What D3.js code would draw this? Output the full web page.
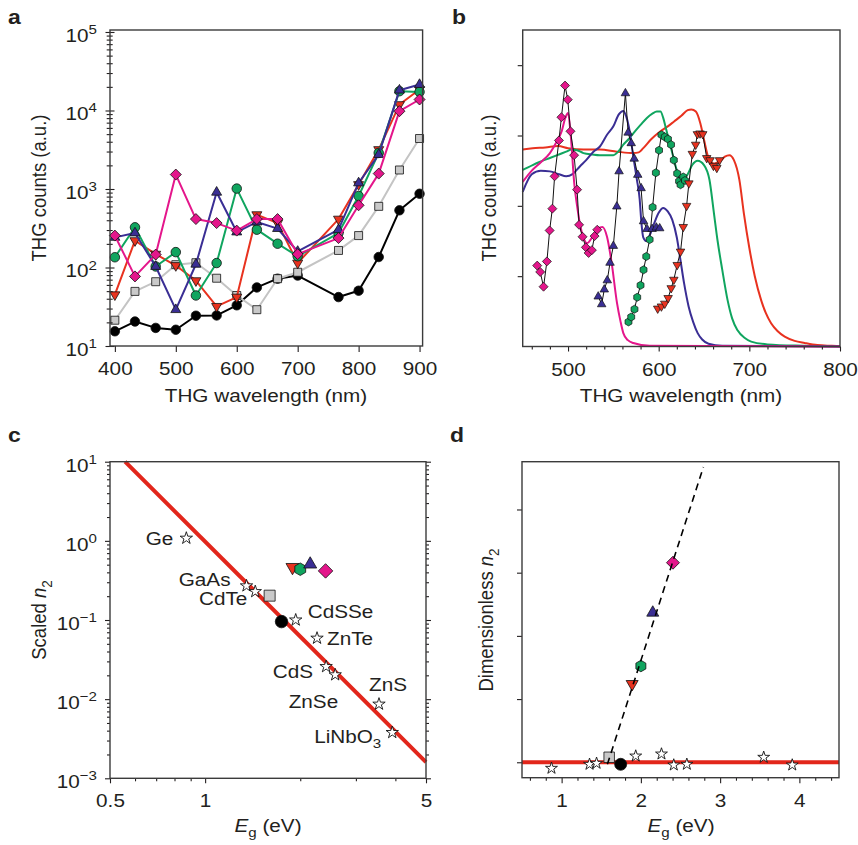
<!DOCTYPE html>
<html><head><meta charset="utf-8">
<script src="https://cdn.jsdelivr.net/npm/d3@7"></script>
<style>body{margin:0;background:#fff}svg{display:block}</style>
</head><body><script>
// ================= DATA =================
// Panel a : THG counts vs THG wavelength
const wavelengthA = [400,433,467,500,533,567,600,633,667,700,767,800,833,867,900];
const countsBlack = [15.4,20.5,17,16.1,24.3,24.5,33,55.7,72,79,42,50.6,136,535,870];
const countsGray  = [21.3,49.6,65.9,108.6,115,73,44,29,72,87,165,255,601,1746,4395];
const countsRed   = [45,220,148,106,68,32,42,471,368,114,414,1140,3180,11900,18500];
const countsGreen = [135,325,103,157,44,114,1012,303,201,139,275,815,2880,17600,17260];
const countsBlue  = [242,275,103,29,110,908,283,379,313,160,303,1193,2745,18150,21400];
const countsPink  = [255,77,146,1527,414,368,295,414,414,148,237,620,1571,9800,13800];
const ticksA = [400,500,600,700,800,900];
const expA = [1,2,3,4,5];

// Panel b : spectra (solid lines) and THG (markers)
const magentaNm = [450,460,470,480,487,493,497,500,503,507,510,513,517,521,527,533,538,543,548,554,558,561,566,572,590,800];
const magentaI  = [2.34,2.5,2.62,2.75,2.9,3.06,3.25,3.32,3.0,2.3,2.0,1.75,1.55,1.47,1.56,1.68,1.70,1.56,1.2,0.62,0.35,0.19,0.09,0.05,0.01,0.0];
const indigoNm = [450,460,470,480,490,498,505,513,520,528,535,543,550,556,561,564,567,572,576,579,581,583,586,590,595,600,605,610,615,620,624,628,633,638,643,648,655,670,800];
const indigoI  = [2.2,2.45,2.5,2.49,2.45,2.42,2.45,2.56,2.65,2.77,2.84,3.01,3.13,3.3,3.35,3.28,3.13,2.70,2.37,2.1,1.75,1.55,1.5,1.58,1.75,1.9,1.97,1.92,1.80,1.55,1.23,0.9,0.57,0.35,0.19,0.1,0.04,0.01,0];
const emeraldNm = [450,461,470,480,490,498,504,510,517,527,535,543,550,556,561,567,572,580,587,593,598,602,605,608,611,614,618,621,624,628,632,637,643,650,656,661,665,670,676,681,687,695,702,720,760,800];
const emeraldI  = [2.51,2.58,2.63,2.68,2.73,2.77,2.8,2.79,2.75,2.73,2.72,2.72,2.72,2.78,2.87,2.95,3.03,3.15,3.25,3.31,3.34,3.34,3.25,3.1,2.95,2.8,2.6,2.45,2.37,2.38,2.45,2.58,2.64,2.58,2.37,1.89,1.5,1.1,0.66,0.4,0.23,0.12,0.07,0.03,0.01,0];
const scarletNm = [450,461,475,489,500,517,535,554,572,578,583,592,602,610,617,625,632,636,641,646,650,654,658,661,665,669,673,678,683,689,694,700,706,713,718,724,731,739,750,761,775,791,800];
const scarletI  = [2.8,2.82,2.83,2.85,2.82,2.8,2.8,2.77,2.75,2.76,2.82,2.95,3.06,3.13,3.2,3.28,3.36,3.37,3.34,3.17,2.94,2.72,2.62,2.6,2.62,2.65,2.7,2.72,2.65,2.37,1.89,1.4,1.0,0.66,0.48,0.33,0.22,0.14,0.08,0.05,0.02,0.01,0.005];
const pinkMarkNm = [466.0,469.3,473.0,476.7,479.7,482.7,485.2,490.0,492.7,496.7,499.7,502.7,506.7,510.0,512.2,516.0,519.7,522.7,526.3,529.3,532.2];
const pinkMarkI  = [1.15,1.06,0.85,1.21,1.65,1.96,2.42,2.93,3.26,3.71,3.51,3.06,2.72,2.23,1.73,1.56,1.41,1.33,1.37,1.57,1.66];
const blueMarkNm = [533.3,537.1,540.0,543.3,546.3,550.0,553.8,556.3,563.3,566.3,569.7,573.0,576.9,580.6,583.3,587.1,592.7,597.4,601.1];
const blueMarkI  = [0.71,0.60,0.81,0.94,1.19,1.43,1.99,2.49,3.60,3.04,2.89,2.67,2.44,2.25,1.78,1.67,1.67,1.69,1.68];
const greenMarkNm = [566.7,569.7,573.3,576.3,580.0,583.3,586.3,590.0,593.3,596.9,600.4,603.0,606.7,610.2,613.6,616.7,620.4,622.5,624.1,627.1,629.0];
const greenMarkI  = [0.35,0.42,0.53,0.70,0.87,1.09,1.28,1.52,1.98,2.47,2.79,3.01,2.98,2.95,2.87,2.65,2.46,2.35,2.30,2.41,2.36];
const redMarkNm = [598.9,603.0,606.7,610.4,613.8,616.7,620.4,624.1,627.1,630.8,633.3,637.1,640.8,642.7,645.6,648.6,653.0,656.7,660.4,664.1,667.1];
const redMarkI  = [0.54,0.57,0.61,0.69,0.83,0.95,1.16,1.35,1.70,2.00,2.32,2.74,2.87,3.02,3.03,3.02,2.68,2.65,2.57,2.54,2.65];
const ticksB = [500,600,700,800];
const ticksBy = [1,2,3,4];

// Panel c / d : bulk materials (stars) and films (coloured markers)
const materials = ["Ge","GaAs","CdTe","CdSSe","ZnTe","CdS","ZnSe","ZnS","LiNbO3"];
const materialEg = [0.872,1.352,1.441,1.935,2.26,2.415,2.58,3.55,3.91];
const materialScaledN2 = [1.08,0.27,0.2285,0.100,0.0589,0.0258,0.0203,0.00865,0.00379];
const materialDimlessN2 = [-0.095,-0.032,-0.016,0.099,0.131,-0.043,-0.032,0.079,-0.043];
const filmNames = ["gray","black","red","green","blue","pink"];
const filmEg = [1.60,1.745,1.89,2.00,2.15,2.405];
const filmScaledN2 = [0.203,0.0955,0.464,0.438,0.506,0.417];
const filmDimlessN2 = [0.079,-0.032,1.239,1.523,2.367,3.158];
const fitLineEg = [0.558,5];
const fitLineN2 = [10,0.0016];
const trendEg = [1.577,2.789];
const trendN2 = [-0.032,4.672];
const ticksCx = [0.5,1,5];
const expC = [-3,-2,-1,0,1];
const ticksDx = [1,2,3,4];
const ticksDy = [0,1,2,3,4];

// ================= STYLE / LAYOUT =================
const W = 858, H = 845;
const FONT = "'Liberation Sans', Arial, Helvetica, sans-serif";
const FS = 18.5, FSS = 13.5;
const SX = 1.12;
const INK = "#231f20";
const C = {pink:"#e4168b", blue:"#3a2e94", green:"#10a55f", red:"#e8321f", gray:"#c9c9c9", grayLine:"#c4c4c4", black:"#000000", fit:"#e2261b"};

const svg = d3.select("body").append("svg").attr("width", W).attr("height", H);

function shape(type, s) {
  const h = s / 2;
  switch (type) {
    case "circle": return d3.symbol(d3.symbolCircle, Math.PI * h * h)();
    case "square": return `M${-h},${-h}H${h}V${h}H${-h}Z`;
    case "diamond": return `M0,${-h}L${h},0L0,${h}L${-h},0Z`;
    case "tri": { const hh = s * 0.866; return `M0,${-hh*2/3}L${h},${hh/3}L${-h},${hh/3}Z`; }
    case "tridown": { const hh = s * 0.866; return `M0,${hh*2/3}L${h},${-hh/3}L${-h},${-hh/3}Z`; }
    case "hex": { let p = ""; for (let k = 0; k < 6; k++) { const a = -Math.PI/2 + k*Math.PI/3; p += (k ? "L" : "M") + (h*Math.cos(a)).toFixed(2) + "," + (h*Math.sin(a)).toFixed(2); } return p + "Z"; }
    case "star": return d3.symbol(d3.symbolStar, (h*h) / 0.8908)();
  }
}

function markers(parent, xs, ys, xs_, ys_, type, size, fill, stroke, sw) {
  parent.append("g").selectAll("path").data(xs.map((x, i) => [x, ys[i]])).join("path")
    .attr("transform", d => `translate(${xs_(d[0])},${ys_(d[1])})`)
    .attr("d", shape(type, size))
    .attr("fill", fill).attr("stroke", stroke).attr("stroke-width", sw).attr("stroke-linejoin", "round");
}

function line(parent, xs, ys, xs_, ys_, color, width, curve, dash) {
  const gen = d3.line().x(d => xs_(d[0])).y(d => ys_(d[1])).curve(curve || d3.curveLinear);
  const p = parent.append("path").datum(xs.map((x, i) => [x, ys[i]])).attr("d", gen)
    .attr("fill", "none").attr("stroke", color).attr("stroke-width", width)
    .attr("stroke-linejoin", "round").attr("stroke-linecap", "butt");
  if (dash) p.attr("stroke-dasharray", dash);
  return p;
}

function text(parent, x, y, anchor, size, parts, opt = {}) {
  const g = parent.append("g").attr("transform", `translate(${x},${y}) scale(${SX},1)` + (opt.rotate ? " rotate(-90)" : ""));
  const t = g.append("text").attr("text-anchor", anchor).attr("font-family", FONT)
    .attr("font-size", size).attr("fill", INK);
  if (opt.bold) t.attr("font-weight", "bold");
  parts.forEach(p => {
    if (typeof p === "string") p = {t: p};
    const s = t.append("tspan").text(p.t);
    if (p.i) s.attr("font-style", "italic");
    if (p.dy) s.attr("dy", p.dy);
    if (p.fs) s.attr("font-size", p.fs);
  });
  return t;
}

function styleAxis(g) {
  g.select(".domain").remove();
  g.selectAll("line").attr("stroke", INK).attr("stroke-width", 1.1);
  g.selectAll("text").attr("font-family", FONT).attr("font-size", FS).attr("fill", INK)
    .attr("transform", `scale(${SX},1)`);
  return g;
}

function frame(x0, y0, x1, y1) {
  svg.append("rect").attr("x", x0).attr("y", y0).attr("width", x1 - x0).attr("height", y1 - y0)
    .attr("fill", "none").attr("stroke", "#3b3b3b").attr("stroke-width", 1.4);
}

function powLabel(x, y, e) {
  const s = e < 0 ? "\u2212" + Math.abs(e) : String(e);
  text(svg, x, y, "end", FS, ["10", {t: s, fs: FSS, dy: -8}]);
}

// ================= PANEL A =================
{
  const L = 110, R = 422.6, T = 30, B = 346;
  const x = d3.scaleLinear().domain([392, 905]).range([L, R]);
  const y = d3.scaleLog().domain([10, 1.06e5]).range([B, T]);
  const g = svg.append("g");

  const series = [
    {v: countsBlack, c: C.black, lc: C.black, s: "circle", sz: 9.5},
    {v: countsGray, c: C.gray, lc: C.grayLine, s: "square", sz: 8},
    {v: countsRed, c: C.red, lc: C.red, s: "tridown", sz: 10},
    {v: countsGreen, c: C.green, lc: C.green, s: "circle", sz: 9.5},
    {v: countsBlue, c: C.blue, lc: C.blue, s: "tri", sz: 10},
    {v: countsPink, c: C.pink, lc: C.pink, s: "diamond", sz: 11}
  ];
  series.forEach(sr => {
    line(g, wavelengthA, sr.v, x, y, sr.lc, 2);
    markers(g, wavelengthA, sr.v, x, y, sr.s, sr.sz, sr.c, "#111", 0.8);
  });

  styleAxis(svg.append("g").attr("transform", `translate(0,${B})`)
    .call(d3.axisBottom(x).tickValues(ticksA).tickSize(6).tickPadding(10).tickFormat(d3.format("d"))));
  const majors = expA.map(e => Math.pow(10, e));
  const minors = y.ticks().filter(v => !majors.some(m => Math.abs(m - v) < 1e-9 * m));
  const gl = styleAxis(svg.append("g").attr("transform", `translate(${L},0)`)
    .call(d3.axisLeft(y).tickValues(majors).tickSize(4.5).tickFormat("")));
  gl.selectAll(".tick line").attr("x1", 4.5);
  const gm = styleAxis(svg.append("g").attr("transform", `translate(${L},0)`)
    .call(d3.axisLeft(y).tickValues(minors).tickSize(3.3).tickFormat("")));
  gm.selectAll(".tick line").attr("x1", 2.7);
  expA.forEach(e => powLabel(97, y(Math.pow(10, e)) + 10, e));
  frame(L, T, R, B);

  text(svg, 266, 402, "middle", FS, ["THG wavelength (nm)"]);
  text(svg, 46, 188, "middle", FS, ["THG counts (a.u.)"], {rotate: true});
  text(svg, 8, 24, "start", 20.5, ["a"], {bold: true});
}

// ================= PANEL B =================
{
  const L = 522.7, R = 840, T = 30, B = 346.5;
  const x = d3.scaleLinear().domain([450, 800]).range([L, R]);
  const y = d3.scaleLinear().domain([0, 4.5]).range([B, T]);
  const g = svg.append("g");
  const sm = d3.curveMonotoneX;
  line(g, scarletNm, scarletI, x, y, C.red, 2, sm);
  line(g, emeraldNm, emeraldI, x, y, C.green, 2, sm);
  line(g, indigoNm, indigoI, x, y, C.blue, 2, sm);
  line(g, magentaNm, magentaI, x, y, C.pink, 2, sm);

  const ms = [
    {nm: pinkMarkNm, v: pinkMarkI, c: C.pink, s: "diamond", sz: 9},
    {nm: blueMarkNm, v: blueMarkI, c: C.blue, s: "tri", sz: 8.5},
    {nm: greenMarkNm, v: greenMarkI, c: C.green, s: "hex", sz: 8},
    {nm: redMarkNm, v: redMarkI, c: C.red, s: "tridown", sz: 8.5}
  ];
  ms.forEach(m => line(g, m.nm, m.v, x, y, "#111", 1));
  ms.forEach(m => markers(g, m.nm, m.v, x, y, m.s, m.sz, m.c, "#111", 0.7));

  const minors = d3.range(460, 800, 20).filter(v => v % 100 !== 0);
  styleAxis(svg.append("g").attr("transform", `translate(0,${B})`)
    .call(d3.axisBottom(x).tickValues(ticksB).tickSize(5).tickPadding(11).tickFormat(d3.format("d"))));
  styleAxis(svg.append("g").attr("transform", `translate(0,${B})`)
    .call(d3.axisBottom(x).tickValues(minors).tickSize(3).tickFormat("")));
  styleAxis(svg.append("g").attr("transform", `translate(${L},0)`)
    .call(d3.axisLeft(y).tickValues(ticksBy).tickSize(5).tickFormat("")));
  frame(L, T, R, B);

  text(svg, 681, 402, "middle", FS, ["THG wavelength (nm)"]);
  text(svg, 496, 188, "middle", FS, ["THG counts (a.u.)"], {rotate: true});
  text(svg, 452, 24, "start", 20.5, ["b"], {bold: true});
}

// ================= PANEL C =================
{
  const L = 110, R = 426, T = 461.7, B = 778.3;
  const x = d3.scaleLog().domain([0.5, 5]).range([L, R]);
  const y = d3.scaleLog().domain([1e-3, 10]).range([B, T]);
  const g = svg.append("g");
  line(g, fitLineEg, fitLineN2, x, y, C.fit, 4);
  markers(g, materialEg, materialScaledN2, x, y, "star", 13, "#fff", "#111", 0.9);
  const fm = [
    {s: "square", c: C.gray, sz: 11}, {s: "circle", c: C.black, sz: 12.5},
    {s: "tridown", c: C.red, sz: 13}, {s: "hex", c: C.green, sz: 12.5},
    {s: "tri", c: C.blue, sz: 13}, {s: "diamond", c: C.pink, sz: 14.5}
  ];
  fm.forEach((f, i) => markers(g, [filmEg[i]], [filmScaledN2[i]], x, y, f.s, f.sz, f.c, "#111", 0.8));

  // label offsets (px) relative to each star
  const lab = [
    {a: "end", dx: -13, dy: 7}, {a: "end", dx: -16, dy: 0}, {a: "end", dx: -8, dy: 13},
    {a: "start", dx: 12, dy: -2}, {a: "start", dx: 10, dy: 7}, {a: "end", dx: -13, dy: 11},
    {a: "end", dx: 3, dy: 33}, {a: "start", dx: -10, dy: -13}, {a: "end", dx: -11, dy: 10}
  ];
  materials.forEach((m, i) => {
    const px = x(materialEg[i]) + lab[i].dx, py = y(materialScaledN2[i]) + lab[i].dy;
    const parts = m === "LiNbO3" ? ["LiNbO", {t: "3", fs: FSS, dy: 5}] : [m];
    text(svg, px, py, lab[i].a, FS, parts);
  });

  const minorsX = x.ticks().filter(v => !ticksCx.includes(v));
  styleAxis(svg.append("g").attr("transform", `translate(0,${B})`)
    .call(d3.axisBottom(x).tickValues(ticksCx).tickSize(5).tickPadding(11).tickFormat(d => String(d))));
  styleAxis(svg.append("g").attr("transform", `translate(0,${B})`)
    .call(d3.axisBottom(x).tickValues(minorsX).tickSize(3).tickFormat("")));
  const majors = expC.map(e => Math.pow(10, e));
  const minors = y.ticks().filter(v => !majors.some(m => Math.abs(m - v) < 1e-6 * m));
  [[d3.axisLeft, L], [d3.axisRight, R]].forEach(([ax, pos]) => {
    styleAxis(svg.append("g").attr("transform", `translate(${pos},0)`)
      .call(ax(y).tickValues(majors).tickSize(5).tickFormat("")));
    styleAxis(svg.append("g").attr("transform", `translate(${pos},0)`)
      .call(ax(y).tickValues(minors).tickSize(3).tickFormat("")));
  });
  expC.forEach(e => powLabel(97, y(Math.pow(10, e)) + 10, e));
  frame(L, T, R, B);

  text(svg, 268, 832, "middle", FS, [{t: "E", i: true}, {t: "g", fs: FSS, dy: 5}, {t: " (eV)", dy: -5}]);
  text(svg, 46, 620, "middle", FS, ["Scaled ", {t: "n", i: true}, {t: "2", fs: FSS, dy: 5}], {rotate: true});
  text(svg, 8, 442, "start", 20.5, ["c"], {bold: true});
}

// ================= PANEL D =================
{
  const L = 522, R = 839, T = 461.7, B = 777.7;
  const x = d3.scaleLinear().domain([0.5, 4.5]).range([L, R]);
  const y = d3.scaleLinear().domain([-0.244, 4.756]).range([B, T]);
  const g = svg.append("g");
  line(g, [0.5, 4.5], [0, 0], x, y, C.fit, 4);
  markers(g, materialEg, materialDimlessN2, x, y, "star", 12.5, "#fff", "#111", 0.9);
  const fm = [
    {s: "square", c: C.gray, sz: 10.5}, {s: "circle", c: C.black, sz: 12},
    {s: "tridown", c: C.red, sz: 12}, {s: "hex", c: C.green, sz: 11.5},
    {s: "tri", c: C.blue, sz: 12}, {s: "diamond", c: C.pink, sz: 13}
  ];
  fm.forEach((f, i) => markers(g, [filmEg[i]], [filmDimlessN2[i]], x, y, f.s, f.sz, f.c, "#111", 0.8));
  line(g, trendEg, trendN2, x, y, "#000", 1.6, null, "7,5");

  const minorsX = d3.range(0.6, 4.45, 0.2).filter(v => Math.abs(v - Math.round(v)) > 0.05);
  styleAxis(svg.append("g").attr("transform", `translate(0,${B})`)
    .call(d3.axisBottom(x).tickValues(ticksDx).tickSize(5.5).tickPadding(11).tickFormat(d3.format("d"))));
  styleAxis(svg.append("g").attr("transform", `translate(0,${B})`)
    .call(d3.axisBottom(x).tickValues(minorsX).tickSize(3).tickFormat("")));
  styleAxis(svg.append("g").attr("transform", `translate(${L},0)`)
    .call(d3.axisLeft(y).tickValues(ticksDy).tickSize(5).tickFormat("")));
  frame(L, T, R, B);

  text(svg, 681, 832, "middle", FS, [{t: "E", i: true}, {t: "g", fs: FSS, dy: 5}, {t: " (eV)", dy: -5}]);
  text(svg, 493, 620, "middle", FS, ["Dimensionless ", {t: "n", i: true}, {t: "2", fs: FSS, dy: 5}], {rotate: true});
  text(svg, 450, 442, "start", 20.5, ["d"], {bold: true});
}
</script></body></html>
